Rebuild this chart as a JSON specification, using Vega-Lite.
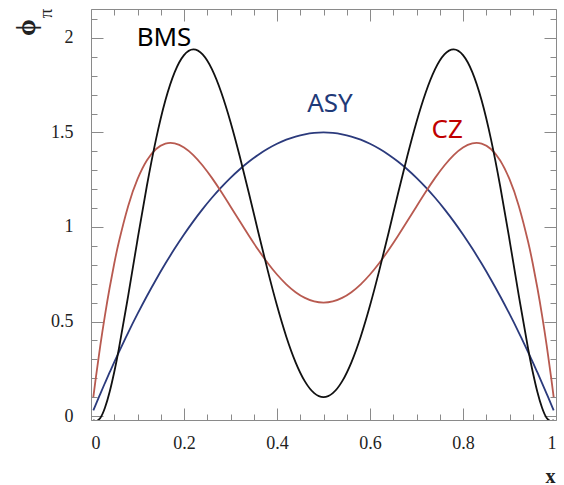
{
  "$schema": "https://vega.github.io/schema/vega-lite/v6.json",
  "autosize": "none",
  "width": 465,
  "height": 411,
  "padding": {"left": 91, "top": 9, "right": 8, "bottom": 65},
  "background": "white",
  "config": {
    "view": {"stroke": "#8a8a8a", "strokeWidth": 1},
    "axis": {"grid": false, "domain": false, "tickColor": "#8a8a8a", "tickWidth": 1, "labelFont": "Liberation Serif", "labelFontSize": 18, "labelColor": "#222", "titleFont": "Liberation Serif", "titleFontWeight": "normal", "titleColor": "#222"}
  },
  "datasets": {
    "curves": [
      {"x": 0.005, "ASY": 0.0299, "CZ": 0.0997, "BMS": -0.0197},
      {"x": 0.01, "ASY": 0.0594, "CZ": 0.1949, "BMS": -0.0273},
      {"x": 0.02, "ASY": 0.1176, "CZ": 0.3722, "BMS": -0.0103},
      {"x": 0.03, "ASY": 0.1746, "CZ": 0.5327, "BMS": 0.0434},
      {"x": 0.04, "ASY": 0.2304, "CZ": 0.6772, "BMS": 0.1266},
      {"x": 0.05, "ASY": 0.285, "CZ": 0.8066, "BMS": 0.233},
      {"x": 0.06, "ASY": 0.3384, "CZ": 0.9215, "BMS": 0.357},
      {"x": 0.08, "ASY": 0.4416, "CZ": 1.1114, "BMS": 0.6373},
      {"x": 0.1, "ASY": 0.54, "CZ": 1.2528, "BMS": 0.9324},
      {"x": 0.12, "ASY": 0.6336, "CZ": 1.3513, "BMS": 1.2154},
      {"x": 0.14, "ASY": 0.7224, "CZ": 1.4124, "BMS": 1.466},
      {"x": 0.16, "ASY": 0.8064, "CZ": 1.4412, "BMS": 1.6702},
      {"x": 0.18, "ASY": 0.8856, "CZ": 1.4425, "BMS": 1.8194},
      {"x": 0.2, "ASY": 0.96, "CZ": 1.4208, "BMS": 1.9092},
      {"x": 0.22, "ASY": 1.0296, "CZ": 1.3805, "BMS": 1.9395},
      {"x": 0.24, "ASY": 1.0944, "CZ": 1.3255, "BMS": 1.9128},
      {"x": 0.26, "ASY": 1.1544, "CZ": 1.2597, "BMS": 1.835},
      {"x": 0.28, "ASY": 1.2096, "CZ": 1.1864, "BMS": 1.7129},
      {"x": 0.3, "ASY": 1.26, "CZ": 1.1088, "BMS": 1.5556},
      {"x": 0.32, "ASY": 1.3056, "CZ": 1.0299, "BMS": 1.3726},
      {"x": 0.34, "ASY": 1.3464, "CZ": 0.9522, "BMS": 1.1741},
      {"x": 0.36, "ASY": 1.3824, "CZ": 0.8781, "BMS": 0.9699},
      {"x": 0.38, "ASY": 1.4136, "CZ": 0.8097, "BMS": 0.7703},
      {"x": 0.4, "ASY": 1.44, "CZ": 0.7488, "BMS": 0.5842},
      {"x": 0.42, "ASY": 1.4616, "CZ": 0.6969, "BMS": 0.4198},
      {"x": 0.44, "ASY": 1.4784, "CZ": 0.6552, "BMS": 0.2843},
      {"x": 0.46, "ASY": 1.4904, "CZ": 0.6248, "BMS": 0.1833},
      {"x": 0.48, "ASY": 1.4976, "CZ": 0.6062, "BMS": 0.121},
      {"x": 0.5, "ASY": 1.5, "CZ": 0.6, "BMS": 0.0999},
      {"x": 0.52, "ASY": 1.4976, "CZ": 0.6062, "BMS": 0.121},
      {"x": 0.54, "ASY": 1.4904, "CZ": 0.6248, "BMS": 0.1833},
      {"x": 0.56, "ASY": 1.4784, "CZ": 0.6552, "BMS": 0.2843},
      {"x": 0.58, "ASY": 1.4616, "CZ": 0.6969, "BMS": 0.4198},
      {"x": 0.6, "ASY": 1.44, "CZ": 0.7488, "BMS": 0.5842},
      {"x": 0.62, "ASY": 1.4136, "CZ": 0.8097, "BMS": 0.7703},
      {"x": 0.64, "ASY": 1.3824, "CZ": 0.8781, "BMS": 0.9699},
      {"x": 0.66, "ASY": 1.3464, "CZ": 0.9522, "BMS": 1.1741},
      {"x": 0.68, "ASY": 1.3056, "CZ": 1.0299, "BMS": 1.3726},
      {"x": 0.7, "ASY": 1.26, "CZ": 1.1088, "BMS": 1.5556},
      {"x": 0.72, "ASY": 1.2096, "CZ": 1.1864, "BMS": 1.7129},
      {"x": 0.74, "ASY": 1.1544, "CZ": 1.2597, "BMS": 1.835},
      {"x": 0.76, "ASY": 1.0944, "CZ": 1.3255, "BMS": 1.9128},
      {"x": 0.78, "ASY": 1.0296, "CZ": 1.3805, "BMS": 1.9395},
      {"x": 0.8, "ASY": 0.96, "CZ": 1.4208, "BMS": 1.9092},
      {"x": 0.82, "ASY": 0.8856, "CZ": 1.4425, "BMS": 1.8194},
      {"x": 0.84, "ASY": 0.8064, "CZ": 1.4412, "BMS": 1.6702},
      {"x": 0.86, "ASY": 0.7224, "CZ": 1.4124, "BMS": 1.466},
      {"x": 0.88, "ASY": 0.6336, "CZ": 1.3513, "BMS": 1.2154},
      {"x": 0.9, "ASY": 0.54, "CZ": 1.2528, "BMS": 0.9324},
      {"x": 0.92, "ASY": 0.4416, "CZ": 1.1114, "BMS": 0.6373},
      {"x": 0.94, "ASY": 0.3384, "CZ": 0.9215, "BMS": 0.357},
      {"x": 0.95, "ASY": 0.285, "CZ": 0.8066, "BMS": 0.233},
      {"x": 0.96, "ASY": 0.2304, "CZ": 0.6772, "BMS": 0.1266},
      {"x": 0.97, "ASY": 0.1746, "CZ": 0.5327, "BMS": 0.0434},
      {"x": 0.98, "ASY": 0.1176, "CZ": 0.3722, "BMS": -0.0103},
      {"x": 0.99, "ASY": 0.0594, "CZ": 0.1949, "BMS": -0.0273},
      {"x": 0.995, "ASY": 0.0299, "CZ": 0.0997, "BMS": -0.0197}
    ]
  },
  "resolve": {"axis": {"x": "independent", "y": "independent"}},
  "layer": [
    {
      "data": {"name": "curves"},
      "mark": {"type": "line", "clip": true, "color": "#2b3a7c", "strokeWidth": 1.8, "interpolate": "natural"},
      "encoding": {
        "x": {"field": "x", "type": "quantitative", "scale": {"domain": [0, 1], "nice": false, "zero": false},
              "axis": {"orient": "bottom", "values": [0, 0.2, 0.4, 0.6, 0.8, 1], "format": "~g", "tickSize": -12, "labelPadding": 26, "title": "x", "titleFontSize": 20, "titleFontWeight": "bold", "titleX": 459, "titleY": 62, "titleAlign": "center", "titleBaseline": "alphabetic"}},
        "y": {"field": "ASY", "type": "quantitative", "scale": {"domain": [-0.021, 2.153], "nice": false, "zero": false},
              "axis": {"orient": "left", "values": [0, 0.5, 1, 1.5, 2], "format": "~g", "tickSize": -12, "labelPadding": 30, "title": "ϕ", "titleFontSize": 27, "titleFontWeight": "bold", "titleAngle": -90, "titleX": -65, "titleY": 18, "titleAlign": "center", "titleBaseline": "middle"}}
      }
    },
    {
      "data": {"name": "curves"},
      "mark": {"type": "line", "clip": true, "color": "#b85a50", "strokeWidth": 1.8, "interpolate": "natural"},
      "encoding": {
        "x": {"field": "x", "type": "quantitative", "scale": {"domain": [0, 1], "nice": false, "zero": false},
              "axis": {"orient": "top", "values": [0, 0.2, 0.4, 0.6, 0.8, 1], "tickSize": -12, "labels": false, "title": null}},
        "y": {"field": "CZ", "type": "quantitative", "scale": {"domain": [-0.021, 2.153], "nice": false, "zero": false},
              "axis": {"orient": "right", "values": [0, 0.5, 1, 1.5, 2], "tickSize": -12, "labels": false, "title": null}}
      }
    },
    {
      "data": {"name": "curves"},
      "mark": {"type": "line", "clip": true, "color": "#111111", "strokeWidth": 1.8, "interpolate": "natural"},
      "encoding": {
        "x": {"field": "x", "type": "quantitative", "scale": {"domain": [0, 1], "nice": false, "zero": false},
              "axis": {"orient": "bottom", "values": [0.05, 0.1, 0.15, 0.25, 0.3, 0.35, 0.45, 0.5, 0.55, 0.65, 0.7, 0.75, 0.85, 0.9, 0.95], "tickSize": -6, "labels": false, "title": null}},
        "y": {"field": "BMS", "type": "quantitative", "scale": {"domain": [-0.021, 2.153], "nice": false, "zero": false},
              "axis": {"orient": "left", "values": [0.1, 0.2, 0.3, 0.4, 0.6, 0.7, 0.8, 0.9, 1.1, 1.2, 1.3, 1.4, 1.6, 1.7, 1.8, 1.9, 2.1], "tickSize": -6, "labels": false, "title": null}}
      }
    },
    {
      "data": {"values": [{"label": "BMS"}]},
      "mark": {"type": "text", "font": "Noto Sans", "fontSize": 26, "color": "#000000", "align": "center", "baseline": "middle"},
      "encoding": {
        "text": {"field": "label"},
        "x": {"datum": 0.157, "type": "quantitative", "scale": {"domain": [0, 1], "nice": false, "zero": false},
              "axis": {"orient": "top", "values": [0.05, 0.1, 0.15, 0.25, 0.3, 0.35, 0.45, 0.5, 0.55, 0.65, 0.7, 0.75, 0.85, 0.9, 0.95], "tickSize": -6, "labels": false, "title": null}},
        "y": {"datum": 2.0, "type": "quantitative", "scale": {"domain": [-0.021, 2.153], "nice": false, "zero": false},
              "axis": {"orient": "right", "values": [0.1, 0.2, 0.3, 0.4, 0.6, 0.7, 0.8, 0.9, 1.1, 1.2, 1.3, 1.4, 1.6, 1.7, 1.8, 1.9, 2.1], "tickSize": -6, "labels": false, "title": "π", "titleFontSize": 19, "titleAngle": -90, "titleX": -511, "titleY": 4, "titleAlign": "center", "titleBaseline": "middle"}}
      }
    },
    {
      "data": {"values": [{"label": "ASY"}]},
      "mark": {"type": "text", "font": "Noto Sans", "fontSize": 26, "color": "#1f3a78", "align": "center", "baseline": "middle"},
      "encoding": {
        "text": {"field": "label"},
        "x": {"datum": 0.514, "type": "quantitative", "scale": {"domain": [0, 1], "nice": false, "zero": false}, "axis": null},
        "y": {"datum": 1.651, "type": "quantitative", "scale": {"domain": [-0.021, 2.153], "nice": false, "zero": false}, "axis": null}
      }
    },
    {
      "data": {"values": [{"label": "CZ"}]},
      "mark": {"type": "text", "font": "Noto Sans", "fontSize": 26, "color": "#c00000", "align": "center", "baseline": "middle"},
      "encoding": {
        "text": {"field": "label"},
        "x": {"datum": 0.766, "type": "quantitative", "scale": {"domain": [0, 1], "nice": false, "zero": false}, "axis": null},
        "y": {"datum": 1.513, "type": "quantitative", "scale": {"domain": [-0.021, 2.153], "nice": false, "zero": false}, "axis": null}
      }
    }
  ]
}
